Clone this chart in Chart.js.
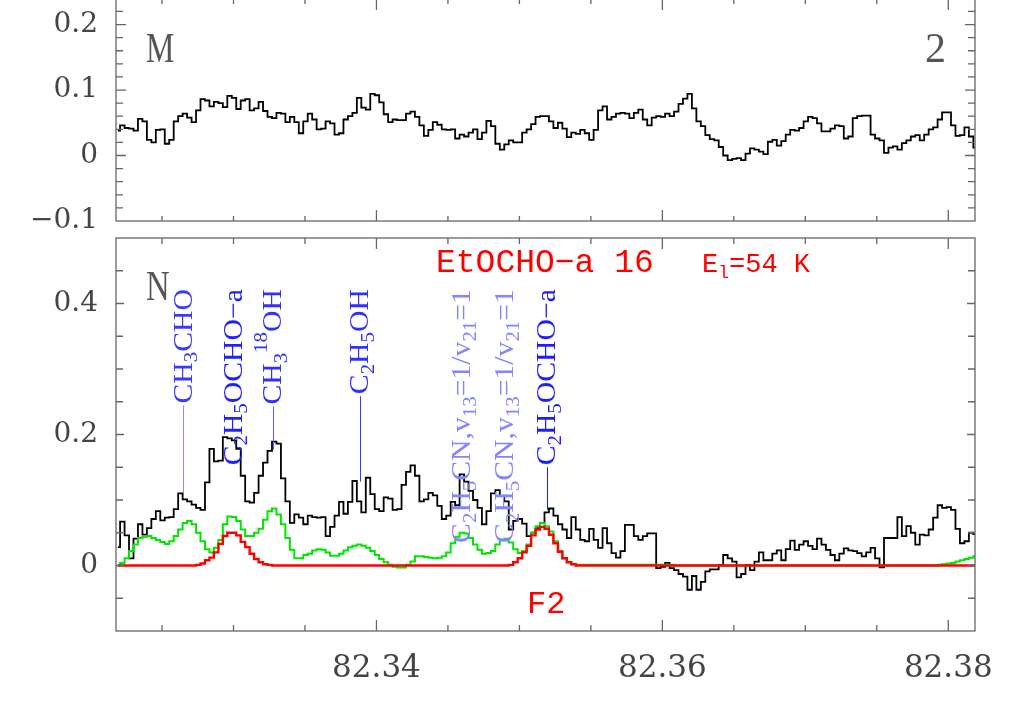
<!DOCTYPE html>
<html><head><meta charset="utf-8">
<script src="https://cdn.jsdelivr.net/npm/chart.js@4"></script>
<style>
html,body{margin:0;padding:0;background:#fff;width:1025px;height:717px;overflow:hidden;}
canvas{position:absolute;left:0;}
#cTop{top:-1px;}
#cBot{top:230px;}
</style></head><body>
<canvas id="cTop" width="1025" height="245"></canvas>
<canvas id="cBot" width="1025" height="487"></canvas>
<script>
// ---------------- data ----------------
const FREQ_START = 82.32191;      // GHz, centre of first channel
const CHANNEL_WIDTH = 0.0003125;  // GHz
const X_MIN = 82.32178, X_MAX = 82.38187;
const X_TICK_LABELS = [82.34, 82.36, 82.38];
const TOP_Y_TICK_LABELS = [-0.1, 0, 0.1, 0.2];
const BOT_Y_TICK_LABELS = [0, 0.2, 0.4];

// Panel "M" observed spectrum
const fluxM = [
 0.038,0.046,0.042,0.041,0.038,0.056,0.052,0.024,0.020,0.039,
 0.040,0.018,0.024,0.052,0.060,0.064,0.058,0.051,0.069,0.086,
 0.084,0.075,0.082,0.080,0.074,0.091,0.088,0.071,0.084,0.086,
 0.069,0.072,0.082,0.068,0.059,0.057,0.065,0.064,0.051,0.059,
 0.051,0.034,0.052,0.064,0.055,0.040,0.041,0.052,0.049,0.032,
 0.034,0.055,0.060,0.065,0.088,0.073,0.070,0.094,0.092,0.081,
 0.063,0.051,0.055,0.054,0.054,0.064,0.067,0.059,0.046,0.030,
 0.039,0.051,0.047,0.040,0.039,0.040,0.026,0.032,0.029,0.035,
 0.040,0.025,0.035,0.053,0.045,0.018,0.009,0.017,0.023,0.020,
 0.020,0.035,0.040,0.048,0.059,0.060,0.060,0.052,0.042,0.050,
 0.041,0.028,0.035,0.033,0.039,0.034,0.024,0.039,0.069,0.075,
 0.055,0.059,0.064,0.065,0.064,0.057,0.065,0.070,0.055,0.046,
 0.058,0.060,0.059,0.064,0.060,0.067,0.079,0.087,0.094,0.072,
 0.052,0.045,0.031,0.025,0.023,0.013,0.000,-0.007,-0.005,-0.004,
 -0.007,0.003,0.011,0.009,0.006,0.002,0.021,0.024,0.015,0.022,
 0.032,0.039,0.038,0.042,0.052,0.059,0.057,0.049,0.037,0.037,
 0.041,0.046,0.045,0.026,0.029,0.057,0.060,0.061,0.061,0.032,
 0.026,0.023,0.004,0.012,0.014,0.009,0.019,0.023,0.029,0.031,
 0.023,0.032,0.040,0.043,0.055,0.066,0.066,0.046,0.030,0.031,
 0.043,0.029,0.012
];

// Panel "N" observed spectrum
const fluxN = [
 0.028,0.067,0.046,0.011,0.041,0.063,0.047,0.057,0.071,0.083,
 0.069,0.073,0.074,0.086,0.110,0.101,0.098,0.093,0.088,0.085,
 0.127,0.178,0.159,0.160,0.196,0.194,0.191,0.178,0.137,0.098,
 0.096,0.111,0.137,0.157,0.175,0.189,0.186,0.133,0.098,0.065,
 0.078,0.073,0.063,0.076,0.074,0.073,0.074,0.045,0.059,0.076,
 0.097,0.079,0.097,0.129,0.098,0.081,0.134,0.109,0.086,0.083,
 0.104,0.102,0.085,0.086,0.123,0.143,0.153,0.137,0.098,0.101,
 0.111,0.107,0.091,0.071,0.076,0.097,0.092,0.139,0.128,0.114,
 0.100,0.088,0.063,0.083,0.110,0.115,0.106,0.098,0.055,0.068,
 0.071,0.064,0.045,0.050,0.057,0.065,0.081,0.087,0.076,0.063,
 0.055,0.042,0.074,0.055,0.039,0.037,0.056,0.039,0.027,0.057,
 0.034,0.019,0.012,0.022,0.062,0.062,0.045,0.039,0.045,0.049,
 0.049,-0.004,-0.002,0.004,-0.004,-0.007,-0.013,-0.017,-0.037,-0.016,
 -0.037,-0.025,-0.009,-0.006,-0.006,0.001,0.016,0.011,0.006,-0.018,
 -0.013,0.001,-0.007,0.006,0.020,0.008,0.008,0.018,0.023,0.008,
 0.025,0.038,0.024,0.032,0.037,0.030,0.025,0.041,0.032,0.024,
 0.016,0.008,0.018,0.026,0.023,0.022,0.019,0.014,0.020,0.027,
 0.011,-0.003,0.042,0.042,0.042,0.074,0.045,0.060,0.050,0.032,
 0.047,0.046,0.055,0.073,0.092,0.088,0.089,0.085,0.056,0.034,
 0.037,0.050,0.048
];

// Panel "N" model including all species (green)
const modelAll = [
 0.000,0.004,0.011,0.022,0.032,0.042,0.044,0.045,0.042,0.039,
 0.036,0.033,0.037,0.045,0.055,0.065,0.068,0.063,0.050,0.037,
 0.025,0.020,0.027,0.039,0.063,0.075,0.074,0.068,0.055,0.045,
 0.045,0.050,0.056,0.070,0.083,0.087,0.078,0.063,0.042,0.024,
 0.011,0.011,0.016,0.018,0.023,0.025,0.024,0.020,0.015,0.015,
 0.018,0.023,0.028,0.030,0.032,0.030,0.027,0.022,0.016,0.010,
 0.005,0.001,-0.002,-0.003,-0.003,0.001,0.006,0.014,0.014,0.013,
 0.012,0.011,0.012,0.014,0.020,0.034,0.044,0.050,0.049,0.042,
 0.032,0.024,0.018,0.019,0.022,0.032,0.039,0.041,0.035,0.025,
 0.019,0.022,0.032,0.050,0.060,0.065,0.060,0.052,0.037,0.022,
 0.011,0.005,0.002,0.001,0.001,0.001,0.001,0.001,0.001,0.001,
 0.001,0.001,0.001,0.001,0.001,0.001,0.001,0.001,0.001,0.001,
 0.001,0.001,0.001,0.001,0.001,0,0,0,0,0,
 0,0,0,0,0,0,0,0,0,0,
 0,0,0,0,0,0,0,0,0,0,
 0,0,0,0,0,0,0,0,0,0,
 0,0,0,0,0,0,0,0,0,0,
 0,0,0,0,0,0,0,0,0,0,
 0,0,0,0,0.001,0.002,0.003,0.004,0.006,0.008,
 0.010,0.012,0.014
];

// Panel "N" EtOCHO-a model (red)
const modelEtOCHO = [
 0,0,0,0,0,0,0,0,0,0,
 0,0,0,0,0,0,0,0,0.001,0.003,
 0.008,0.012,0.020,0.033,0.045,0.050,0.050,0.046,0.036,0.028,
 0.018,0.010,0.005,0.002,0.001,0,0,0,0,0,
 0,0,0,0,0,0,0,0,0,0,
 0,0,0,0,0,0,0,0,0,0,
 0,0,0,0,0,0,0,0,0,0,
 0,0,0,0,0,0,0,0,0,0,
 0,0,0,0,0,0,0,0,0.001,0.005,
 0.011,0.020,0.030,0.046,0.055,0.059,0.056,0.047,0.034,0.021,
 0.011,0.005,0.002,0,0,0,0,0,0,0,
 0,0,0,0,0,0,0,0,0,0,
 0,0,0,0,0,0,0,0,0,0,
 0,0,0,0,0,0,0,0,0,0,
 0,0,0,0,0,0,0,0,0,0,
 0,0,0,0,0,0,0,0,0,0,
 0,0,0,0,0,0,0,0,0,0,
 0,0,0,0,0,0,0,0,0,0,
 0,0,0,0,0,0,0,0,0,0,
 0,0,0
];

// Line identifications (panel N)
const lineNames = ['CH_3CHO','C_2H_5OCHO\u2212a','CH_3^{18}OH','C_2H_5OH',
  'C_2H_5CN,v_{13}=1/v_{21}=1','C_2H_5CN,v_{13}=1/v_{21}=1','C_2H_5OCHO\u2212a'];
const lineFreqs = [82.32647, 82.32997, 82.33276, 82.33883, 82.34595, 82.34898, 82.35190];
const lineTipFlux = [0.111, 0.190, 0.177, 0.128, null, null, 0.085];
const LABEL_TOP_FLUX = 0.422;

// ---------------- styles ----------------
const LABEL_TEXT_COLORS = ['#3a3aff','#2020ff','#3030ff','#3030ff','#8484ff','#8484ff','#1c1cff'];
const LABEL_LINE_COLORS = ['#8a8aff','#2020ff','#5a5aff','#3a3aff','#8484ff','#8484ff','#1c1cff'];
const LABEL_STRETCH = 1.1;

const toPts = arr => arr.map((v, i) => ({x: FREQ_START + i * CHANNEL_WIDTH, y: v}));
const isMult = (v, s) => Math.abs(v / s - Math.round(v / s)) < 1e-6;
const inList = (list, v) => list.some(t => Math.abs(t - v) < 1e-7);
function stepTicks(min, max, step) {
  return (scale) => {
    const out = [];
    for (let k = Math.ceil(min / step - 1e-9); k * step <= max + 1e-9; k++) out.push({value: +(k * step).toFixed(6)});
    scale.ticks = out;
  };
}
const fmtY = v => Math.abs(v) < 1e-9 ? '0' : (v < 0 ? '\u2212' : '') + Math.abs(v).toFixed(1);

const frameTicks = {
  id: 'frameTicks',
  afterDraw(chart, args, o) {
    const {ctx, chartArea: a} = chart;
    const x = chart.scales.x, y = chart.scales.y;
    ctx.save();
    ctx.strokeStyle = '#666'; ctx.lineWidth = 1.3;
    ctx.strokeRect(a.left, a.top, a.right - a.left, a.bottom - a.top);
    ctx.beginPath();
    x.ticks.forEach(t => {
      const p = x.getPixelForValue(t.value);
      if (p <= a.left + 1 || p >= a.right - 1) return;
      const len = isMult(t.value, o.xMajor) ? o.xLong : o.xShort;
      ctx.moveTo(p, a.bottom); ctx.lineTo(p, a.bottom - len);
      ctx.moveTo(p, a.top); ctx.lineTo(p, a.top + len);
    });
    y.ticks.forEach(t => {
      const p = y.getPixelForValue(t.value);
      if (p <= a.top + 1 || p >= a.bottom - 1) return;
      const len = isMult(t.value, o.yMajor) ? o.yLong : o.yShort;
      ctx.moveTo(a.left, p); ctx.lineTo(a.left + len, p);
      ctx.moveTo(a.right, p); ctx.lineTo(a.right - len, p);
    });
    ctx.stroke();
    ctx.restore();
  }
};

function parseRich(s) {
  const out = []; let buf = ''; let i = 0;
  while (i < s.length) {
    const c = s[i];
    if (c === '_' || c === '^') {
      if (buf) { out.push({t: buf, k: 0}); buf = ''; }
      let t;
      if (s[i + 1] === '{') { const j = s.indexOf('}', i); t = s.slice(i + 2, j); i = j + 1; }
      else { t = s[i + 1]; i += 2; }
      out.push({t, k: c === '_' ? 1 : -1});
    } else { buf += c; i++; }
  }
  if (buf) out.push({t: buf, k: 0});
  return out;
}

function drawText(ctx, parts, x, y) {
  let cx = x;
  parts.forEach(p => {
    ctx.font = p.font; ctx.fillStyle = p.color;
    ctx.save(); ctx.translate(cx, y + (p.dy || 0)); ctx.scale(p.sx || 1, 1);
    ctx.fillText(p.t, 0, 0); ctx.restore();
    cx += ctx.measureText(p.t).width * (p.sx || 1);
  });
}

const topAnnot = {
  id: 'topAnnot',
  afterDatasetsDraw(chart) {
    const ctx = chart.ctx; ctx.save(); ctx.textBaseline = 'alphabetic';
    const f = '42px "Liberation Serif"';
    drawText(ctx, [{t: 'M', font: f, color: '#555', sx: 0.76}], 146, 63);
    drawText(ctx, [{t: '2', font: f, color: '#555'}], 925, 63);
    ctx.restore();
  }
};

const botAnnot = {
  id: 'botAnnot',
  afterDatasetsDraw(chart) {
    const ctx = chart.ctx; const xs = chart.scales.x, ys = chart.scales.y;
    ctx.save(); ctx.textBaseline = 'alphabetic';
    drawText(ctx, [{t: 'N', font: '42px "Liberation Serif"', color: '#555', sx: 0.78}], 146, 70);
    drawText(ctx, [{t: 'EtOCHO\u2212a 16', font: '33px "Liberation Mono"', color: '#ff0000'}], 436, 41.5);
    drawText(ctx, [
      {t: 'E', font: '27px "Liberation Mono"', color: '#ff0000'},
      {t: 'l', font: '18px "Liberation Mono"', color: '#ff0000', dy: 6},
      {t: '=54 K', font: '27px "Liberation Mono"', color: '#ff0000'}], 702, 41.7);
    drawText(ctx, [{t: 'F2', font: '32px "Liberation Mono"', color: '#ff0000'}], 527, 383);

    const top = ys.getPixelForValue(LABEL_TOP_FLUX);
    const big = '27px "Liberation Serif"', small = '19px "Liberation Serif"';
    lineNames.forEach((name, i) => {
      const px = xs.getPixelForValue(lineFreqs[i]);
      const segs = parseRich(name);
      ctx.save();
      let total = 0;
      segs.forEach(s => { ctx.font = s.k ? small : big; s.w = ctx.measureText(s.t).width; total += s.w; });
      ctx.translate(px, top);
      ctx.rotate(-Math.PI / 2);
      ctx.scale(LABEL_STRETCH, 1);
      ctx.fillStyle = LABEL_TEXT_COLORS[i];
      let cx = -total;
      segs.forEach(s => {
        ctx.font = s.k ? small : big;
        const dy = s.k === 1 ? 14 : s.k === -1 ? -6 : 8.5;
        ctx.fillText(s.t, cx, dy);
        cx += s.w;
      });
      ctx.restore();
      if (lineTipFlux[i] !== null) {
        const y0 = top + total * LABEL_STRETCH + 2, y1 = ys.getPixelForValue(lineTipFlux[i]);
        if (y1 > y0) {
          ctx.strokeStyle = LABEL_LINE_COLORS[i]; ctx.lineWidth = 1;
          ctx.beginPath(); ctx.moveTo(Math.round(px) + 0.5, y0); ctx.lineTo(Math.round(px) + 0.5, y1); ctx.stroke();
        }
      }
    });
    ctx.restore();
  }
};

const common = {
  animation: false, responsive: false, maintainAspectRatio: false, devicePixelRatio: 1, events: [],
  plugins: {legend: {display: false}, tooltip: {enabled: false}, title: {display: false}},
  elements: {point: {radius: 0}, line: {tension: 0}}
};
const tickFont = {family: 'DejaVu Serif', size: 28};

new Chart(document.getElementById('cTop'), {
  type: 'line',
  data: {datasets: [{data: toPts(fluxM), borderColor: '#000', borderWidth: 1.8, stepped: 'middle', fill: false}]},
  options: Object.assign({}, common, {
    layout: {padding: {left: 0, right: 50, top: 0, bottom: 23}},
    plugins: Object.assign({}, common.plugins, {frameTicks: {xMajor: 0.02, xLong: 11, xShort: 5, yMajor: 0.1, yLong: 10, yShort: 7}}),
    scales: {
      x: {type: 'linear', min: X_MIN, max: X_MAX, afterBuildTicks: stepTicks(X_MIN, X_MAX, 0.005),
          ticks: {display: false, autoSkip: false}, grid: {display: false, drawTicks: false}, border: {display: false},
          afterFit: s => { s.height = 0; s.paddingLeft = 0; s.paddingRight = 0; }},
      y: {type: 'linear', min: -0.1, max: 0.239, afterBuildTicks: stepTicks(-0.1, 0.239, 0.02),
          ticks: {autoSkip: false, font: tickFont, color: '#444', padding: 18,
                  callback: v => inList(TOP_Y_TICK_LABELS, v) ? fmtY(v) : ''},
          grid: {display: false, drawTicks: false}, border: {display: false},
          afterFit: s => { s.width = 116; s.paddingTop = 0; s.paddingBottom = 0; }}
    }
  }),
  plugins: [frameTicks, topAnnot]
});

new Chart(document.getElementById('cBot'), {
  type: 'line',
  data: {datasets: [
    {data: toPts(modelEtOCHO), borderColor: '#ff0000', borderWidth: 2.4, stepped: 'middle', fill: false},
    {data: toPts(modelAll), borderColor: '#00e600', borderWidth: 2, stepped: 'middle', fill: false},
    {data: toPts(fluxN), borderColor: '#000', borderWidth: 1.8, stepped: 'middle', fill: false}
  ]},
  options: Object.assign({}, common, {
    layout: {padding: {left: 0, right: 50, top: 8, bottom: 0}},
    plugins: Object.assign({}, common.plugins, {frameTicks: {xMajor: 0.02, xLong: 11, xShort: 6, yMajor: 0.2, yLong: 8, yShort: 7}}),
    scales: {
      x: {type: 'linear', min: X_MIN, max: X_MAX, afterBuildTicks: stepTicks(X_MIN, X_MAX, 0.005),
          ticks: {autoSkip: false, maxRotation: 0, font: {family: 'DejaVu Serif', size: 31}, color: '#444', padding: 19,
                  callback: v => inList(X_TICK_LABELS, v) ? v.toFixed(2) : ''},
          grid: {display: false, drawTicks: false}, border: {display: false},
          afterFit: s => { s.height = 86; s.paddingLeft = 0; s.paddingRight = 0; }},
      y: {type: 'linear', min: -0.1, max: 0.5, afterBuildTicks: stepTicks(-0.1, 0.5, 0.05),
          ticks: {autoSkip: false, font: tickFont, color: '#444', padding: 18,
                  callback: v => inList(BOT_Y_TICK_LABELS, v) ? fmtY(v) : ''},
          grid: {display: false, drawTicks: false}, border: {display: false},
          afterFit: s => { s.width = 116; s.paddingTop = 0; s.paddingBottom = 0; }}
    }
  }),
  plugins: [frameTicks, botAnnot]
});
</script>
</body></html>
